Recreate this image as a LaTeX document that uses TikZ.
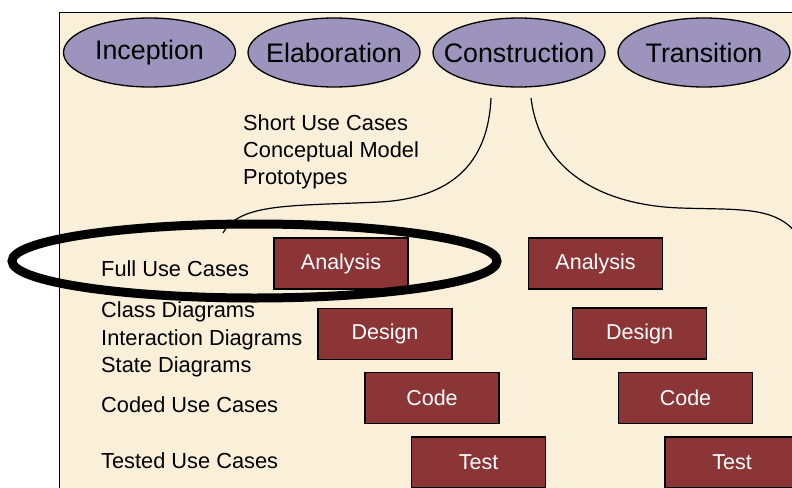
\documentclass[tikz,border=0pt]{standalone}
\usepackage{fontspec}
\setmainfont{Liberation Sans}
\usetikzlibrary{shapes.geometric}
\definecolor{parch}{RGB}{250,240,218}
\definecolor{phasefill}{RGB}{156,148,188}
\definecolor{boxfill}{RGB}{139,53,55}
\tikzset{
  phase/.style={ellipse, draw=black, line width=1.3pt, fill=phasefill, minimum width=172pt, minimum height=69pt, inner sep=0pt, font=\fontsize{26.8}{30}\selectfont},
  actbox/.style={rectangle, draw=black, line width=1.5pt, fill=boxfill, text=white, minimum width=134pt, minimum height=51pt, inner sep=0pt, font=\fontsize{21.5}{25}\selectfont},
  lbl/.style={anchor=base west, inner sep=0pt, font=\fontsize{21.8}{26}\selectfont},
  brace/.style={draw=black, line width=1.2pt}
}
\begin{document}
\begin{tikzpicture}[x=1pt,y=-1pt]
\useasboundingbox (0,0) rectangle (792,487);
\clip (0,0) rectangle (792,487);
\fill[white] (0,0) rectangle (792,487);
\filldraw[fill=parch, draw=black, line width=1pt] (59,13) rectangle (820,520);

\node[phase] (inc) at (149.5,52.5) {\makebox[0pt]{Inception}};
\node[phase] (ela) at (334,52.5) {\makebox[0pt]{Elaboration}};
\node[phase] (con) at (519,52.5) {\makebox[0pt]{Construction}};
\node[phase] (tra) at (704,52.5) {\makebox[0pt]{Transition}};

\node[lbl] (early) at (243,130) {Short Use Cases};
\node[lbl] (cm) at (243,157) {Conceptual Model};
\node[lbl] (pt) at (243,184) {Prototypes};

\coordinate (lstart) at (491,98);
\coordinate (lmid) at (380,202);
\coordinate (lend) at (223,233);
\coordinate (rstart) at (531,98);
\coordinate (rmid) at (680,208);
\coordinate (rend) at (797,234);
\draw[brace] (lstart) .. controls (488,165) and (450,198) .. (lmid) .. controls (290,206) and (240,203) .. (lend);
\draw[brace] (rstart) .. controls (540,170) and (600,205) .. (rmid) .. controls (740,210) and (775,206) .. (rend);

\node[lbl] (full) at (101,276) {Full Use Cases};
\node[lbl] (cls) at (101,317) {Class Diagrams};
\node[lbl] (inter) at (101,345) {Interaction Diagrams};
\node[lbl] (state) at (101,372) {State Diagrams};
\node[lbl] (coded) at (101,412) {Coded Use Cases};
\node[lbl] (tested) at (101,468) {Tested Use Cases};

\node[actbox] (a1) at (341,263.5) {Analysis};
\node[actbox] (d1) at (385,334) {Design};
\node[actbox] (c1) at (432,398) {Code};
\node[actbox] (t1) at (478.5,462.5) {Test};
\node[actbox] (a2) at (595.5,263.5) {Analysis};
\node[actbox] (d2) at (639.5,333.5) {Design};
\node[actbox] (c2) at (685.5,398) {Code};
\node[actbox] (t2) at (732,462.5) {Test};

\node[ellipse, draw=black, line width=9pt, minimum width=485pt, minimum height=74pt, inner sep=0pt] (hl) at (254.5,261) {};
\end{tikzpicture}
\end{document}
